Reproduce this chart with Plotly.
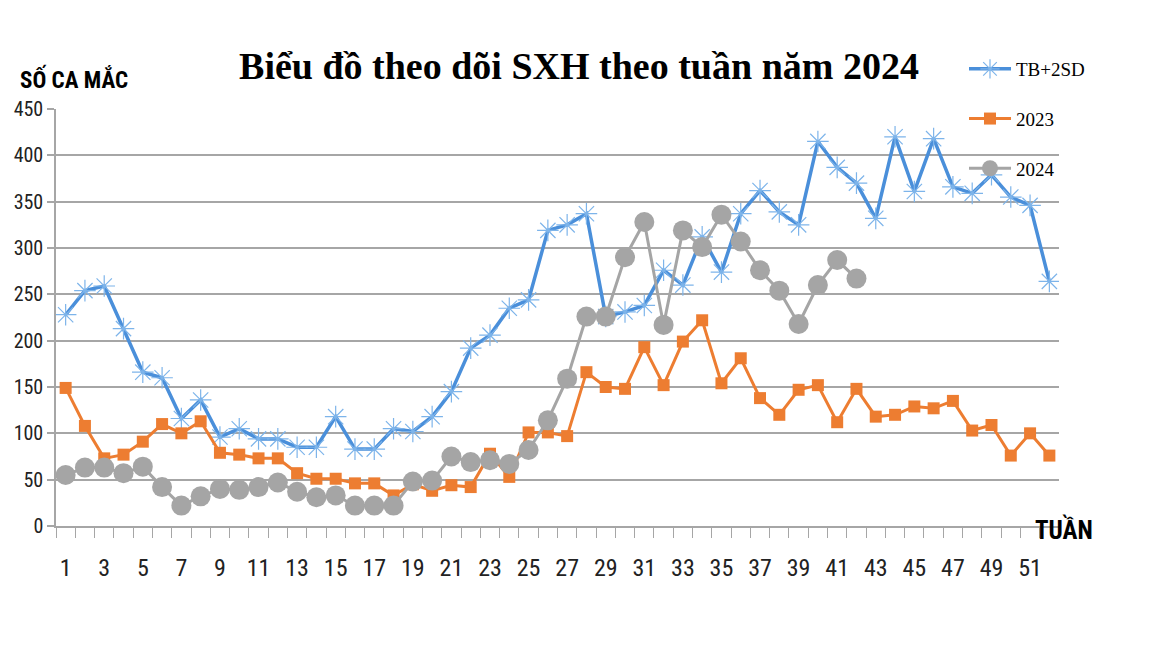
import plotly.graph_objects as go

weeks = list(range(1, 53))
tb2sd = [228, 254, 259, 213, 166, 160, 116, 136, 96, 105,
         94, 94, 85, 85, 118, 83, 83, 105, 102, 118,
         145, 192, 206, 235, 244, 319, 325, 337, 226, 231,
         238, 276, 260, 312, 274, 337, 362, 339, 325, 415,
         387, 370, 332, 420, 361, 418, 366, 359, 379, 355,
         346, 264]
y2023 = [149, 108, 73, 77, 91, 110, 100, 113, 79, 77,
         73, 73, 57, 51, 51, 46, 46, 33, 45, 38,
         44, 42, 78, 53, 101, 101, 97, 166, 150, 148,
         193, 152, 199, 222, 154, 181, 138, 120, 147, 152,
         112, 148, 118, 120, 129, 127, 135, 103, 109, 76,
         100, 76]
y2024 = [55, 63, 63, 57, 64, 42, 22, 32, 40, 39,
         42, 47, 37, 31, 33, 22, 22, 22, 48, 49,
         75, 69, 71, 67, 82, 114, 159, 226, 226, 290,
         328, 217, 319, 301, 336, 307, 276, 254, 218, 260,
         287, 267]
xtick_vals = list(range(1, 52, 2))
ytick_vals = [0, 50, 100, 150, 200, 250, 300, 350, 400, 450]

NARROW = "Liberation Sans Narrow, Arial Narrow, Roboto Condensed, Liberation Sans, sans-serif"
SERIF = "Liberation Serif, Times New Roman, serif"

# The page body adds an 8px margin, so the figure is 8px smaller and coordinates are shifted.
W, H = 1144, 640

fig = go.Figure()
fig.add_trace(go.Scatter(
    x=weeks, y=tb2sd, name="TB+2SD", mode="lines+markers", legendgroup="a",
    line=dict(color="#4A8FDA", width=3.5),
    marker=dict(symbol="asterisk-open", size=18, color="#7DB4EA",
                line=dict(color="#7DB4EA", width=1.2)),
))
fig.add_trace(go.Scatter(
    x=weeks, y=y2023, name="2023", mode="lines+markers", legendgroup="b",
    line=dict(color="#ED7D31", width=3),
    marker=dict(symbol="square", size=12, color="#ED7D31"),
))
fig.add_trace(go.Scatter(
    x=weeks[:len(y2024)], y=y2024, name="2024", mode="lines+markers", legendgroup="c",
    line=dict(color="#A5A5A5", width=3),
    marker=dict(symbol="circle", size=20, color="#A5A5A5"),
))

fig.update_layout(
    width=W, height=H,
    paper_bgcolor="white", plot_bgcolor="white",
    margin=dict(l=48, r=93, t=101, b=122, autoexpand=False),
    title=dict(text="<b>Biểu đồ theo dõi SXH theo tuần năm 2024</b>",
               font=dict(family=SERIF, size=38, color="black"),
               x=571 / W, xanchor="center", xref="container",
               y=1 - 58 / H, yanchor="middle", yref="container"),
    legend=dict(x=956 / W, xref="container", xanchor="left",
                y=1 - 42 / H, yref="container", yanchor="top",
                font=dict(family=SERIF, size=19, color="black"),
                tracegroupgap=22, bgcolor="rgba(0,0,0,0)",
                itemwidth=42),
    showlegend=True,
    annotations=[
        dict(text="<b>SỐ CA MẮC</b>", xref="paper", yref="paper",
             x=-38 / 1003, y=1 + 30 / 417, xanchor="left", yanchor="middle",
             showarrow=False, font=dict(family=NARROW, size=23, color="black")),
        dict(text="<b>TUẦN</b>", xref="paper", yref="paper",
             x=1 - 26 / 1003, y=-3 / 417, xanchor="left", yanchor="middle",
             showarrow=False, font=dict(family=NARROW, size=25, color="black")),
    ],
)
fig.update_xaxes(
    range=[0.5, 52.5], tickmode="array", tickvals=xtick_vals,
    ticktext=[str(v) for v in xtick_vals],
    ticks="", showgrid=False, zeroline=False, automargin=False,
    showline=True, linecolor="#A6A6A6", linewidth=1.5,
    tickfont=dict(family=NARROW, size=24, color="#222222"),
    ticklabelstandoff=19,
    minor=dict(tick0=0.5, dtick=1, ticks="outside", ticklen=10,
               tickcolor="#A6A6A6", tickwidth=1.2, showgrid=False),
)
fig.update_yaxes(
    range=[0, 450], tickmode="array", tickvals=ytick_vals,
    showgrid=True, gridcolor="#A6A6A6", gridwidth=1.5, zeroline=False,
    showline=True, linecolor="#A6A6A6", linewidth=1.5, automargin=False,
    ticks="outside", ticklen=7, tickcolor="#A6A6A6", tickwidth=1.5,
    tickfont=dict(family=NARROW, size=20, color="#222222"),
    ticklabelstandoff=0,
)

fig.write_html("out.html")
